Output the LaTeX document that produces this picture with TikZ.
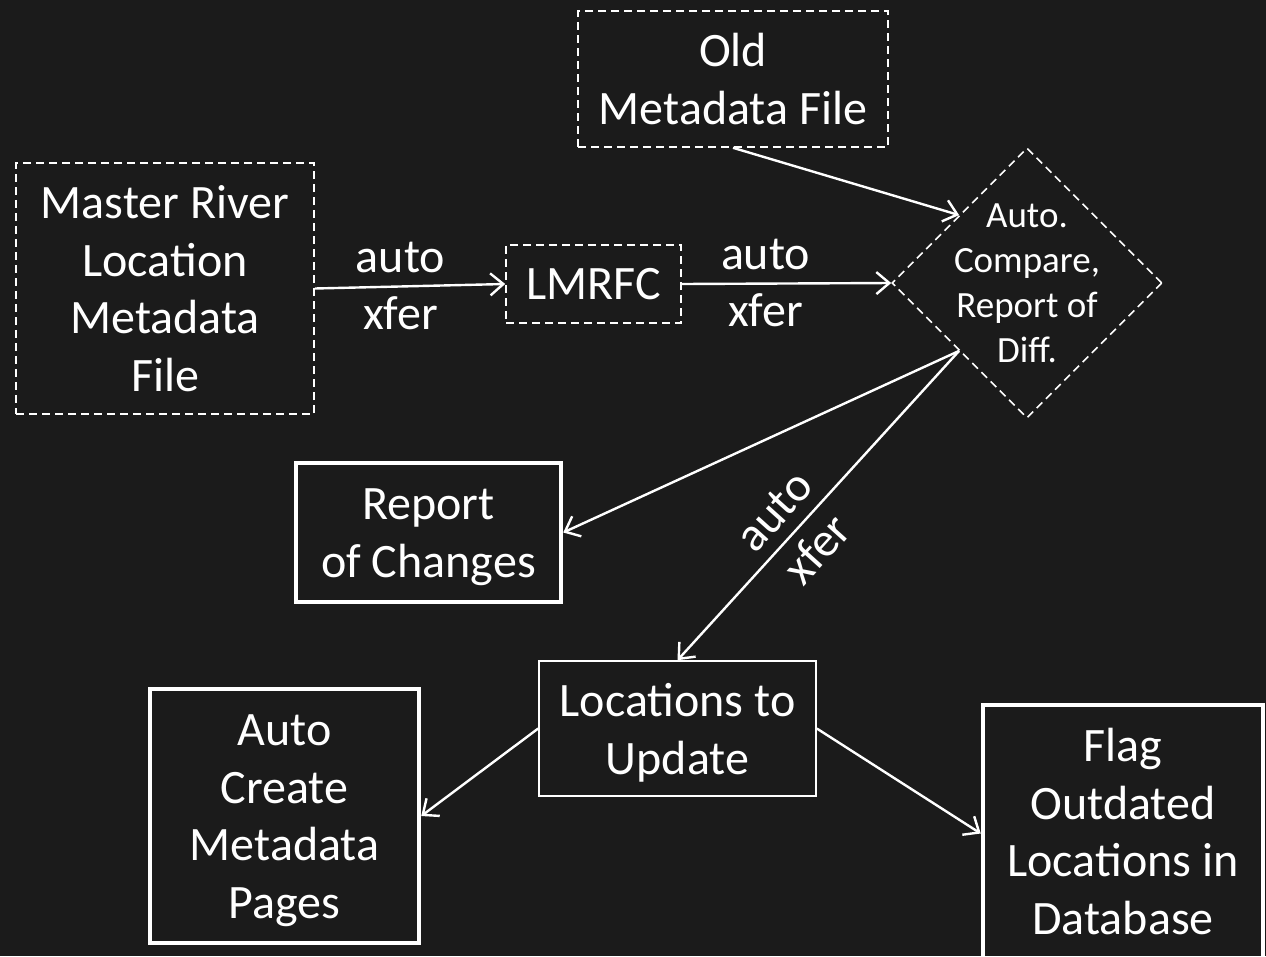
\documentclass[tikz,border=0pt]{standalone}
\usepackage{fontspec}
\setmainfont{Carlito}
\usetikzlibrary{arrows.meta,shapes.geometric}
\definecolor{bg}{HTML}{1B1B1B}
\tikzset{
  big/.style={font=\fontsize{48}{57.5}\selectfont, text=white, align=center, inner sep=0pt},
  dashbox/.style={big, draw=white, line width=1.6pt, dash pattern=on 8pt off 5pt},
  thickbox/.style={draw=white, line width=4.5pt, inner sep=0pt},
  thinbox/.style={draw=white, line width=1.6pt, inner sep=0pt},
  conn/.style={draw=white, line width=2.4pt, -{Straight Barb[length=13pt,width=22pt,line width=2.4pt]}},
  lbl/.style={font=\fontsize{48}{57.5}\selectfont, text=white, align=center, inner sep=0pt}
}
\begin{document}
\begin{tikzpicture}[x=1pt,y=-1pt]
\fill[bg] (0,0) rectangle (1266,956);
\useasboundingbox (0,0) rectangle (1266,956);

\node[dashbox, minimum width=310pt, minimum height=136pt] (old) at (733,79) {Old\\Metadata File};
\node[dashbox, minimum width=298pt, minimum height=251pt] (master) at (165,288.5) {Master River\\Location\\Metadata\\File};
\node[dashbox, minimum width=175pt, minimum height=78pt] (lmrfc) at (593.5,284) {LMRFC};
\node[draw=white, line width=1.6pt, dash pattern=on 8pt off 5pt, diamond, minimum width=270pt, minimum height=270pt, inner sep=0pt] (cmp) at (1027,283) {};
\node[text=white, align=center, font=\fontsize{37}{45}\selectfont, inner sep=0pt] (cmptext) at (cmp.center) {Auto.\\Compare,\\Report of\\Diff.};

\node[thickbox, minimum width=265pt, minimum height=139pt] (report) at (428.5,532.5) {};
\node[big] (reporttext) at (428.5,537) {Report\\of Changes};
\node[thinbox, minimum width=277pt, minimum height=135pt] (upd) at (677.5,728.5) {};
\node[big] (updtext) at (677.5,733) {Locations to\\Update};
\node[thickbox, minimum width=269pt, minimum height=254pt] (create) at (284.5,816) {};
\node[big] (createtext) at (284.5,820.5) {Auto\\Create\\Metadata\\Pages};
\node[thickbox, minimum width=280pt, minimum height=257pt] (flag) at (1123,833.5) {};
\node[big] (flagtext) at (1123,831.5) {Flag\\Outdated\\Locations in\\Database};

\draw[conn] (master.east) -- node[lbl, pos=0.45, yshift=29pt] {auto} node[lbl, pos=0.45, yshift=-27pt] {xfer} (lmrfc.west);
\draw[conn] (lmrfc.east) -- node[lbl, pos=0.40, yshift=29pt] {auto} node[lbl, pos=0.40, yshift=-27pt] {xfer} (cmp.west);
\draw[conn] (old.south) -- (cmp.north west);
\draw[conn] (cmp.south west) -- (report.east);
\draw[conn] (cmp.south west) -- node[lbl, pos=0.58, rotate=48] {auto\\xfer} (upd.north);
\draw[conn] (upd.west) -- (create.east);
\draw[conn] (upd.east) -- (flag.west);
\end{tikzpicture}
\end{document}
